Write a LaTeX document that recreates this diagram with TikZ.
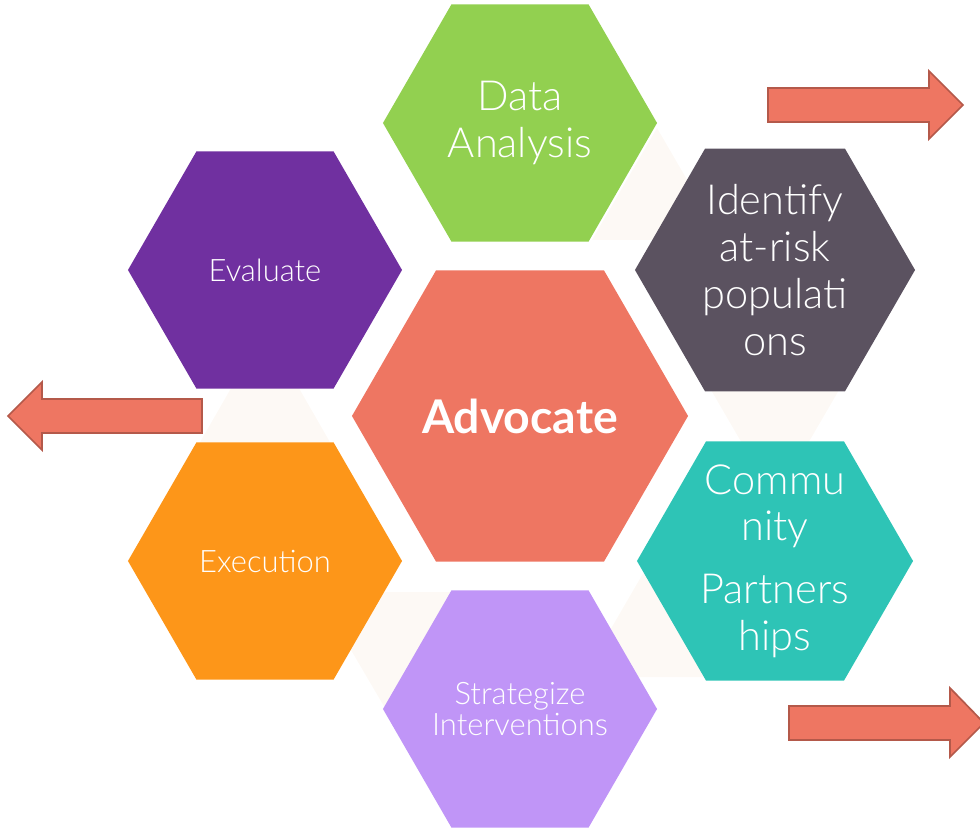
\documentclass[tikz,border=0pt]{standalone}
\usepackage{fontspec}
\setmainfont{Lato}
\newfontfamily\lightfont{Lato Light}
\usetikzlibrary{shapes.geometric}
\definecolor{hgreen}{HTML}{92D050}
\definecolor{hgrey}{HTML}{5B5260}
\definecolor{hpurple}{HTML}{7030A0}
\definecolor{horange}{HTML}{FD9619}
\definecolor{hteal}{HTML}{2EC4B6}
\definecolor{hlilac}{HTML}{C095F7}
\definecolor{hsalmon}{HTML}{EE7662}
\definecolor{hborder}{HTML}{B4594A}
\definecolor{hcream}{HTML}{FDF9F5}
\begin{document}
\begin{tikzpicture}[x=0.025cm,y=-0.025cm,
        hexa/.style={regular polygon,regular polygon sides=6,inner sep=0pt,draw=none},
        bigtext/.style={text=white,align=center,font=\lightfont\fontsize{29.5}{33.4}\selectfont},
        smalltext/.style={text=white,align=center,font=\lightfont\fontsize{22}{22.5}\selectfont},
        redarrow/.style={fill=hsalmon,draw=hborder,line width=1.2pt,line join=miter}]
                \clip (0,0) rectangle (980,832);
                % light triangles between the outer hexagons
                \fill[hcream] (657,128) -- (592,240) -- (722,240) -- cycle;
                \fill[hcream] (711,390) -- (839,390) -- (775,500) -- cycle;
                \fill[hcream] (652,558) -- (583,677) -- (721,677) -- cycle;
                \fill[hcream] (317,592) -- (453,592) -- (385,708) -- cycle;
                \fill[hcream] (265,329) -- (199,444) -- (331,444) -- cycle;
                % hexagons
                \node[hexa,fill=hsalmon,minimum size=8.4cm] (advocate) at (520,416) {};
                \node[hexa,fill=hgreen,minimum size=6.85cm] (data) at (520,123) {};
                \node[hexa,fill=hgrey,minimum size=7cm] (identify) at (775,270) {};
                \node[hexa,fill=hteal,minimum size=6.9cm] (community) at (775,561) {};
                \node[hexa,fill=hlilac,minimum size=6.85cm] (strategize) at (520,709) {};
                \node[hexa,fill=horange,minimum size=6.85cm] (execution) at (265,561) {};
                \node[hexa,fill=hpurple,minimum size=6.85cm] (evaluate) at (265,270) {};
                % texts
                \node[text=white,font=\bfseries\fontsize{33}{38}\selectfont] (advocate-t) at (advocate) {Advocate};
                \node[bigtext] (data-t) at (data) {Data\\Analysis};
                \node[bigtext] (identify-t) at (identify) {Identify\\at-risk\\populati\\ons};
                \node[bigtext] (community-t) at (community) {Commu\\nity\\[11pt]Partners\\hips};
                \node[smalltext] (strategize-t) at (strategize) {Strategize\\Interventions};
                \node[smalltext] (execution-t) at (execution) {Execution};
                \node[smalltext] (evaluate-t) at (evaluate) {Evaluate};
                % block arrows
                \draw[redarrow] (768,88) -- ++(161,0) -- ++(0,-17) -- ++(34,34) -- ++(-34,34) -- ++(0,-17) -- ++(-161,0) -- cycle;
                \draw[redarrow] (202,399) -- ++(-160,0) -- ++(0,-17) -- ++(-34,34) -- ++(34,34) -- ++(0,-17) -- ++(160,0) -- cycle;
                \draw[redarrow] (789,706) -- ++(161,0) -- ++(0,-18) -- ++(34,35) -- ++(-34,34) -- ++(0,-17) -- ++(-161,0) -- cycle;
\end{tikzpicture}
\end{document}
